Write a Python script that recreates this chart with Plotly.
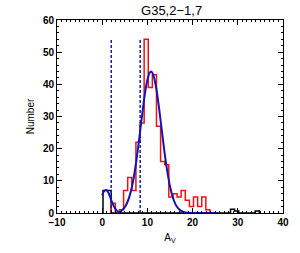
import plotly.graph_objects as go

# ---- data ----
bin_start = 0.18
bin_width = 0.91
# black histogram (bins 0..37)
black_counts = [7, 7] + [0] * 29 + [1.2, 0.6, 0, 0, 0, 0, 0.6]
# red histogram starts at bin index 2
red_first_bin = 2
red_counts = [3, 0, 1, 7, 11, 7, 22, 28, 54, 39, 43, 27, 16, 15,
              5, 6, 5, 7, 4, 2, 5, 2, 5, 1]
# blue fitted curve
fit_x = [0, 0.5, 1.0, 1.5, 2.0, 2.5, 3.0, 3.5, 4.0, 4.5, 5.0, 5.5, 6.0, 6.5,
         7.0, 7.5, 8.0, 8.5, 9.0, 9.5, 10.0, 10.5, 10.8, 11.1, 11.5, 12.0,
         12.5, 13.0, 13.5, 14.0, 14.5, 15.0, 15.5, 16.0, 16.5, 17.0, 17.5,
         18.0, 18.5, 19.0, 20.0, 22.0, 25.5]
fit_y = [5.5, 6.9, 7.1, 5.9, 4.0, 2.3, 1.1, 0.4, 0.4, 1.0, 1.8, 3.1, 5.0, 7.7,
         11.2, 15.7, 21.0, 26.7, 32.4, 37.5, 41.4, 43.6, 44.0, 43.6, 42.0, 38.4,
         33.5, 27.8, 22.1, 16.7, 12.1, 8.3, 5.45, 3.4, 2.0, 1.16, 0.63,
         0.33, 0.16, 0.07, 0.01, 0, 0]
# dashed vertical cut lines
cut_values = [2.0, 8.4]
cut_top = 54

title_text = "G35,2\u22121,7"
x_ticks = [-10, 0, 10, 20, 30, 40]
y_ticks = [0, 10, 20, 30, 40, 50, 60]


def step_xy(first_index, counts):
    edges = [bin_start + bin_width * (first_index + i) for i in range(len(counts) + 1)]
    xs = [edges[0]] + edges[:-1] + [edges[-1]]
    ys = [0] + list(counts) + [0]
    return xs, ys


fig = go.Figure()

bx, by = step_xy(0, black_counts)
fig.add_trace(go.Scatter(x=bx, y=by, mode="lines", line_shape="hv",
                         line=dict(color="black", width=1.5), showlegend=False))

rx, ry = step_xy(red_first_bin, red_counts)
fig.add_trace(go.Scatter(x=rx, y=ry, mode="lines", line_shape="hv",
                         line=dict(color="#ee1111", width=1.5), showlegend=False))

for c in cut_values:
    fig.add_trace(go.Scatter(x=[c, c], y=[0, cut_top], mode="lines",
                             line=dict(color="#1a1aaa", width=1.5, dash="3px,2px"),
                             showlegend=False))

fig.add_trace(go.Scatter(x=fit_x, y=fit_y, mode="lines", line_shape="spline",
                         line=dict(color="#1515b5", width=2), showlegend=False))

font_family = "Liberation Sans, Arial, sans-serif"
axis_font = dict(family=font_family, size=10, color="black")

fig.update_layout(
    width=300, height=253,
    margin=dict(l=57, r=17, t=20, b=40),
    paper_bgcolor="white", plot_bgcolor="white",
    title=dict(text=title_text, x=0.572, xanchor="center", y=0.96, yanchor="middle",
               font=dict(family=font_family, size=13, color="black")),
    xaxis=dict(range=[-10, 40], tickvals=x_ticks, ticks="inside", ticklen=5,
               tickcolor="black", showline=True, linecolor="black", linewidth=1,
               mirror="ticks", showgrid=False, zeroline=False,
               tickfont=dict(family=font_family, size=10, color="black", weight="bold"),
               minor=dict(ticks="inside", dtick=1, ticklen=2, tickcolor="black", showgrid=False),
               title=dict(text="A<sub>V</sub>", font=axis_font, standoff=6)),
    yaxis=dict(range=[0, 60], tickvals=y_ticks, ticks="inside", ticklen=5,
               tickcolor="black", showline=True, linecolor="black", linewidth=1,
               mirror="ticks", showgrid=False, zeroline=False,
               tickfont=dict(family=font_family, size=10, color="black", weight="bold"),
               minor=dict(ticks="inside", dtick=2, ticklen=2, tickcolor="black", showgrid=False),
               title=dict(text="Number", font=axis_font, standoff=6)),
)

fig.write_html(
    "out.html",
    config={"displayModeBar": False},
    post_script="document.body.style.margin='0';document.body.style.overflow='hidden';",
)
